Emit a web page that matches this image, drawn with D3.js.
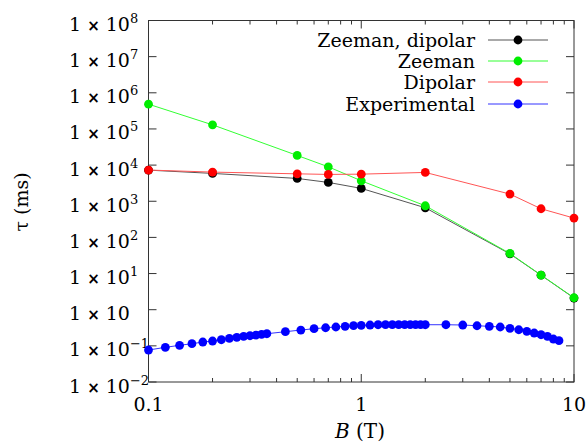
<!DOCTYPE html>
<html>
<head>
<meta charset="utf-8">
<script src="https://cdn.jsdelivr.net/npm/d3@7"></script>
<style>
  html, body { margin: 0; padding: 0; background: #fff; }
  svg { display: block; }
  text { font-family: "DejaVu Serif", "Liberation Serif", serif; fill: #000; }
</style>
</head>
<body>
<svg id="chart" width="586" height="443"></svg>
<script>
// ---- data ----
const modelB = [0.1, 0.2, 0.5, 0.7, 1, 2, 5, 7, 10];
const zeemanDipolar = [7260, 5890, 4280, 3320, 2270, 660, 35, 9, 2.1];
const zeeman = [485000, 130000, 18500, 8970, 3680, 750, 36, 9.1, 2.14];
const dipolar = [7300, 6400, 5740, 5520, 5620, 6270, 1580, 620, 342];

const expB = [0.1, 0.12, 0.14, 0.16, 0.18, 0.2, 0.22, 0.24, 0.26, 0.28, 0.3, 0.32, 0.34, 0.36,
  0.44, 0.52, 0.6, 0.68, 0.76, 0.84, 0.92,
  1.0, 1.1, 1.2, 1.3, 1.4, 1.5, 1.6, 1.7, 1.8, 1.9, 2.0,
  2.5, 3.0, 3.5, 4.0, 4.5, 5.0, 5.5, 6.0, 6.5, 7.0, 7.5, 8.0, 8.5];
const experimental = [0.0767, 0.091, 0.1035, 0.1145, 0.1276, 0.136, 0.1477, 0.1615, 0.172, 0.1834, 0.1905, 0.199, 0.2084, 0.2164,
  0.246, 0.274, 0.298, 0.317, 0.332, 0.347, 0.3606,
  0.37, 0.377, 0.384, 0.386, 0.387, 0.387, 0.387, 0.387, 0.386, 0.385, 0.384,
  0.384, 0.377, 0.36, 0.347, 0.332, 0.305, 0.279, 0.252, 0.2265, 0.203, 0.183, 0.1545, 0.1387];

const seriesNames = ["Zeeman, dipolar", "Zeeman", "Dipolar", "Experimental"];
const seriesColors = ["#000000", "#00ee00", "#ff0000", "#0000ff"];
const lineColors = ["#555555", "#33ff33", "#ff5555", "#3333ff"];

const yTickExps = [-2, -1, 0, 1, 2, 3, 4, 5, 6, 7, 8];
const xTickLabels = ["0.1", "1", "10"];

// ---- layout ----
const svg = d3.select("#chart");
const L = 148.5, R = 574, T = 20.5, Bt = 382;
const x = d3.scaleLog().domain([0.1, 10]).range([L, R]);
const y = d3.scaleLog().domain([1e-2, 1e8]).range([Bt, T]);

// ticks
const g = svg.append("g");
const major = [0.1, 1, 10];
const minor = [];
[0.1, 1].forEach(d => { for (let k = 2; k <= 9; k++) minor.push(d * k); });

major.forEach(v => {
  g.append("line").attr("x1", x(v)).attr("x2", x(v)).attr("y1", Bt).attr("y2", Bt - 8).attr("stroke", "#333");
  g.append("line").attr("x1", x(v)).attr("x2", x(v)).attr("y1", T).attr("y2", T + 8).attr("stroke", "#333");
});
minor.forEach(v => {
  g.append("line").attr("x1", x(v)).attr("x2", x(v)).attr("y1", Bt).attr("y2", Bt - 4).attr("stroke", "#333");
  g.append("line").attr("x1", x(v)).attr("x2", x(v)).attr("y1", T).attr("y2", T + 4).attr("stroke", "#333");
});
yTickExps.forEach(e => {
  const v = Math.pow(10, e);
  g.append("line").attr("x1", L).attr("x2", L + 8).attr("y1", y(v)).attr("y2", y(v)).attr("stroke", "#333");
  g.append("line").attr("x1", R).attr("x2", R - 8).attr("y1", y(v)).attr("y2", y(v)).attr("stroke", "#333");
});

// frame
svg.append("rect").attr("x", L).attr("y", T).attr("width", R - L).attr("height", Bt - T)
  .attr("fill", "none").attr("stroke", "#333").attr("stroke-width", 1);

// y tick labels
yTickExps.forEach(e => {
  const t = svg.append("text").attr("x", 69).attr("y", y(Math.pow(10, e)) + 10.5)
    .attr("text-anchor", "start").style("font-size", "19px");
  t.append("tspan").text("1 ");
  t.append("tspan").text("×").style("font-family", "DejaVu Sans").style("font-weight", "bold").style("font-size", "15px");
  t.append("tspan").text(" 10");
  if (e !== 0) {
    t.append("tspan").text(String(e).replace("-", "−")).attr("dy", -8).style("font-size", "13px");
  }
});

// x tick labels
major.forEach((v, i) => {
  svg.append("text").attr("x", x(v)).attr("y", 411).attr("text-anchor", "middle")
    .style("font-size", "19px").text(xTickLabels[i]);
});

// axis titles
const xt = svg.append("text").attr("x", 360).attr("y", 438).attr("text-anchor", "middle").style("font-size", "20px");
xt.append("tspan").text("B").style("font-style", "italic");
xt.append("tspan").text(" (T)");
svg.append("text").attr("transform", "translate(28,202) rotate(-90)").attr("text-anchor", "middle")
  .style("font-size", "19px").text("τ (ms)");

// series
const line = d3.line().x(d => x(d[0])).y(d => y(d[1]));
const seriesData = [
  modelB.map((b, i) => [b, zeemanDipolar[i]]),
  modelB.map((b, i) => [b, zeeman[i]]),
  modelB.map((b, i) => [b, dipolar[i]]),
  expB.map((b, i) => [b, experimental[i]])
];
seriesData.forEach((data, si) => {
  svg.append("path").datum(data).attr("d", line).attr("fill", "none")
    .attr("stroke", lineColors[si]).attr("stroke-width", 1);
  svg.append("g").selectAll("circle").data(data).join("circle")
    .attr("cx", d => x(d[0])).attr("cy", d => y(d[1])).attr("r", 4.4)
    .attr("fill", seriesColors[si]);
});

// legend
const legY = [40, 61, 82, 104];
seriesNames.forEach((name, i) => {
  svg.append("text").attr("x", 475).attr("y", legY[i] + 6.5).attr("text-anchor", "end")
    .style("font-size", "19px").text(name);
  svg.append("line").attr("x1", 488).attr("x2", 548).attr("y1", legY[i]).attr("y2", legY[i])
    .attr("stroke", lineColors[i]).attr("stroke-width", 1);
  svg.append("circle").attr("cx", 518).attr("cy", legY[i]).attr("r", 4.4).attr("fill", seriesColors[i]);
});
</script>
</body>
</html>
